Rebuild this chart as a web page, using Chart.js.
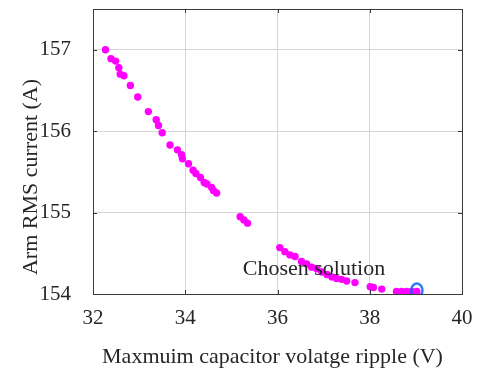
<!DOCTYPE html>
<html>
<head>
<meta charset="utf-8">
<script src="https://cdn.jsdelivr.net/npm/chart.js@4.4.1/dist/chart.umd.min.js"></script>
<style>
  html, body { margin: 0; padding: 0; background: #ffffff; }
  #wrap { width: 477px; height: 369px; }
</style>
</head>
<body>
<div id="wrap"><canvas id="c" width="477" height="369"></canvas></div>
<script>
// Pareto front: maximum capacitor voltage ripple (V) vs arm RMS current (A)
const rippleV = [
  32.27, 32.39, 32.49, 32.56, 32.59, 32.67, 32.81, 32.97, 33.20, 33.37,
  33.42, 33.50, 33.67, 33.83, 33.92, 33.94, 34.07, 34.17, 34.23, 34.33,
  34.41, 34.47, 34.57, 34.61, 34.68, 35.19, 35.27, 35.35, 36.05, 36.16,
  36.27, 36.38, 36.52, 36.63, 36.74, 36.85, 36.96, 37.07, 37.18, 37.28,
  37.39, 37.50, 37.68, 38.01, 38.08, 38.26, 38.58, 38.69, 38.80, 38.91,
  39.02
];
const armRmsA = [
  157.00, 156.89, 156.86, 156.78, 156.70, 156.68, 156.56, 156.42, 156.24, 156.14,
  156.07, 155.98, 155.83, 155.77, 155.71, 155.66, 155.60, 155.52, 155.48, 155.43,
  155.37, 155.35, 155.31, 155.27, 155.24, 154.95, 154.91, 154.87, 154.57, 154.52,
  154.48, 154.46, 154.40, 154.37, 154.33, 154.31, 154.27, 154.24, 154.21, 154.19,
  154.18, 154.16, 154.14, 154.09, 154.08, 154.06, 154.03, 154.03, 154.03, 154.03,
  154.03
];
// Selected operating point
const chosenV = [39.02];
const chosenA = [154.03];
const chosenLabel = 'Chosen solution';

const xTicks = [32, 34, 36, 38, 40];
const yTicks = [154, 155, 156, 157];

const xTitle = 'Maxmuim capacitor volatge ripple (V)';
const yTitle = 'Arm RMS current (A)';

const FONT = '"Liberation Serif", "Times New Roman", serif';
const TEXT = '#262626';
const AXIS = '#3a3a3a';

// Ellipse marker for the chosen point
function ellipseMarker() {
  const cv = document.createElement('canvas');
  cv.width = 16; cv.height = 20;
  const g = cv.getContext('2d');
  g.strokeStyle = '#0a66ff';
  g.lineWidth = 2.2;
  g.beginPath();
  g.ellipse(8, 9, 5.6, 7.2, 0, 0, Math.PI * 2);
  g.stroke();
  return cv;
}

function noPad(s) {
  s.paddingTop = 0; s.paddingBottom = 0;
  s.paddingLeft = 0; s.paddingRight = 0;
}

const frame = {
  id: 'frame',
  afterDatasetsDraw(chart) {
    const { ctx, chartArea: a, scales } = chart;
    ctx.save();
    // inward tick marks on all four sides
    ctx.strokeStyle = AXIS;
    ctx.lineWidth = 1;
    const tl = 4;
    xTicks.forEach(v => {
      const px = Math.round(scales.x.getPixelForValue(v)) + 0.5;
      ctx.beginPath();
      ctx.moveTo(px, a.bottom); ctx.lineTo(px, a.bottom - tl);
      ctx.moveTo(px, a.top); ctx.lineTo(px, a.top + tl);
      ctx.stroke();
    });
    yTicks.forEach(v => {
      const py = Math.round(scales.y.getPixelForValue(v)) + 0.5;
      ctx.beginPath();
      ctx.moveTo(a.left, py); ctx.lineTo(a.left + tl, py);
      ctx.moveTo(a.right, py); ctx.lineTo(a.right - tl, py);
      ctx.stroke();
    });
    // box
    ctx.strokeRect(Math.round(a.left) + 0.5, Math.round(a.top) + 0.5,
      Math.round(a.right - a.left), Math.round(a.bottom - a.top));

    // annotation text next to the chosen point
    const pt = chart.getDatasetMeta(1).data[0];
    ctx.fillStyle = TEXT;
    ctx.font = '22px ' + FONT;
    ctx.textAlign = 'left';
    ctx.textBaseline = 'alphabetic';
    ctx.fillText(chosenLabel, pt.x - 174, pt.y - 17);

    // axis titles
    ctx.textAlign = 'center';
    ctx.fillText(xTitle, (a.left + a.right) / 2 - 5, 363);
    ctx.save();
    ctx.translate(37, 177);
    ctx.rotate(-Math.PI / 2);
    ctx.fillText(yTitle, 0, 0);
    ctx.restore();
    ctx.restore();
  }
};

new Chart(document.getElementById('c'), {
  type: 'scatter',
  data: {
    datasets: [
      {
        data: rippleV.map((v, i) => ({ x: v, y: armRmsA[i] })),
        backgroundColor: '#ff00ff',
        borderColor: '#ff00ff',
        pointRadius: 3.7,
        pointBorderWidth: 0,
        order: 2
      },
      {
        data: chosenV.map((v, i) => ({ x: v, y: chosenA[i] })),
        pointStyle: ellipseMarker(),
        pointRadius: 8,
        order: 1
      }
    ]
  },
  options: {
    responsive: false,
    animation: false,
    events: [],
    layout: { padding: { top: 9, right: 15, left: 0, bottom: 0 } },
    plugins: { legend: { display: false }, tooltip: { enabled: false } },
    scales: {
      x: {
        type: 'linear',
        min: 32, max: 40,
        afterFit(s) { s.height = 75; noPad(s); },
        afterBuildTicks(s) { s.ticks = xTicks.map(v => ({ value: v })); },
        grid: { color: '#d6d6d6', drawTicks: false, lineWidth: 1 },
        border: { display: false },
        ticks: { color: TEXT, padding: 12, font: { family: FONT, size: 21 } }
      },
      y: {
        type: 'linear',
        min: 154, max: 157.5,
        afterFit(s) { s.width = 93; noPad(s); },
        afterBuildTicks(s) { s.ticks = yTicks.map(v => ({ value: v })); },
        grid: { color: '#d6d6d6', drawTicks: false, lineWidth: 1 },
        border: { display: false },
        ticks: { color: TEXT, padding: 22, font: { family: FONT, size: 21 } }
      }
    }
  },
  plugins: [frame]
});
</script>
</body>
</html>
